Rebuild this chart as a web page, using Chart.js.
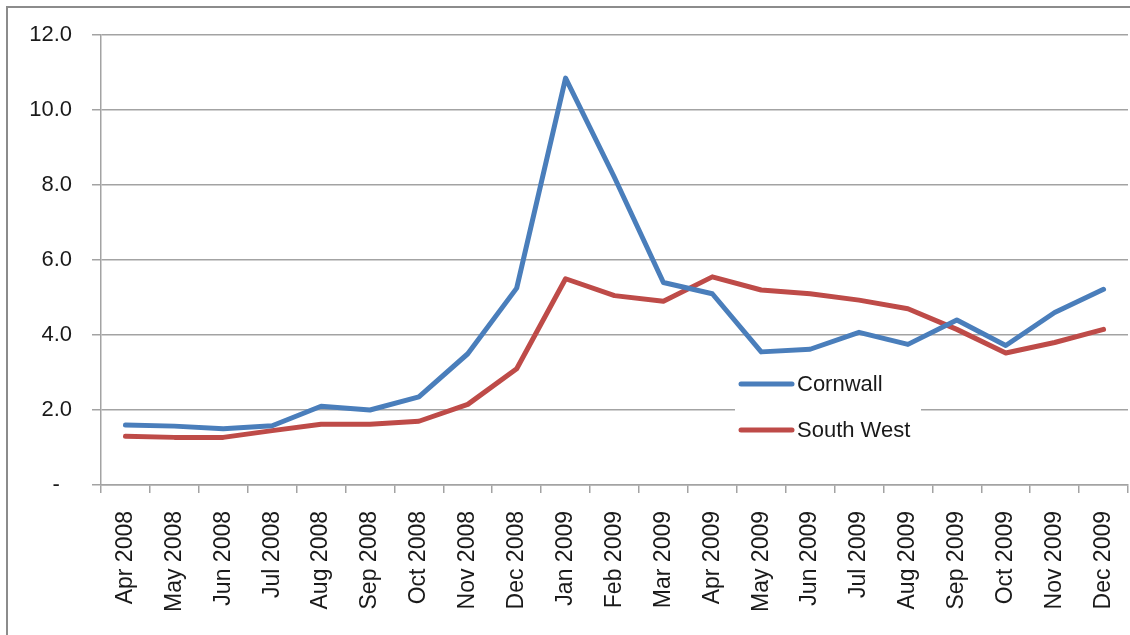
<!DOCTYPE html>
<html>
<head>
<meta charset="utf-8">
<script src="https://cdn.jsdelivr.net/npm/chart.js@4/dist/chart.umd.min.js"></script>
<style>
  html, body { margin: 0; padding: 0; background: #fff; overflow: hidden; }
  #wrap { position: relative; width: 1130px; height: 635px; }
  #frame { position: absolute; left: 6px; top: 6px; width: 1130px; height: 640px;
           border-left: 2px solid #8c8c8c; border-top: 2px solid #8c8c8c; pointer-events: none; }
  canvas { position: absolute; left: 0; top: 0; }
</style>
</head>
<body>
<div id="wrap">
  <canvas id="c" width="1130" height="635"></canvas>
  <div id="frame"></div>
</div>
<script>
const categories = ['Apr 2008','May 2008','Jun 2008','Jul 2008','Aug 2008','Sep 2008','Oct 2008','Nov 2008','Dec 2008',
  'Jan 2009','Feb 2009','Mar 2009','Apr 2009','May 2009','Jun 2009','Jul 2009','Aug 2009','Sep 2009','Oct 2009','Nov 2009','Dec 2009'];
const cornwall = [1.60, 1.57, 1.50, 1.58, 2.10, 2.00, 2.35, 3.50, 5.25, 10.85, 8.20, 5.40, 5.10, 3.55, 3.62, 4.07, 3.75, 4.40, 3.72, 4.60, 5.22];
const southWest = [1.30, 1.27, 1.27, 1.45, 1.62, 1.62, 1.70, 2.15, 3.10, 5.50, 5.05, 4.90, 5.55, 5.20, 5.10, 4.93, 4.70, 4.15, 3.52, 3.80, 4.15];
const yTicks = [0, 2, 4, 6, 8, 10, 12];
const seriesNames = ['Cornwall', 'South West'];

const FONT = '"Liberation Sans", Arial, sans-serif';
const TEXT = '#1a1a1a';
const GRID = '#a3a3a3';

const legendPlugin = {
  id: 'floatLegend',
  afterDraw(chart) {
    const ctx = chart.ctx;
    ctx.save();
    ctx.fillStyle = '#ffffff';
    ctx.fillRect(735, 362, 186, 92);
    const rows = [384, 430];
    chart.data.datasets.forEach((ds, i) => {
      const y = rows[i];
      ctx.strokeStyle = ds.borderColor;
      ctx.lineWidth = 5;
      ctx.lineCap = 'round';
      ctx.beginPath();
      ctx.moveTo(741, y);
      ctx.lineTo(792, y);
      ctx.stroke();
      ctx.fillStyle = TEXT;
      ctx.font = '22px ' + FONT;
      ctx.textAlign = 'left';
      ctx.textBaseline = 'middle';
      ctx.fillText(ds.label, 797, y + 1);
    });
    ctx.restore();
  }
};

new Chart(document.getElementById('c'), {
  type: 'line',
  data: {
    labels: categories,
    datasets: [
      { label: seriesNames[0], data: cornwall, borderColor: '#4a7ebb', backgroundColor: '#4a7ebb',
        borderWidth: 5, pointRadius: 0, tension: 0, borderJoinStyle: 'round', borderCapStyle: 'round' },
      { label: seriesNames[1], data: southWest, borderColor: '#be4b48', backgroundColor: '#be4b48',
        borderWidth: 5, pointRadius: 0, tension: 0, borderJoinStyle: 'round', borderCapStyle: 'round' }
    ]
  },
  options: {
    responsive: false,
    animation: false,
    devicePixelRatio: 1,
    layout: { padding: { top: 35, right: 2, left: 0, bottom: 0 } },
    plugins: { legend: { display: false }, tooltip: { enabled: false } },
    scales: {
      x: {
        offset: true,
        grid: { offset: true, drawOnChartArea: false, drawTicks: true, tickLength: 8, color: GRID, lineWidth: 1.5 },
        border: { display: true, color: GRID, width: 1.5 },
        ticks: { autoSkip: false, minRotation: 90, maxRotation: 90, padding: 18, color: TEXT,
                 font: { family: FONT, size: 23 } },
        afterFit(scale) { scale.height = 150; scale.paddingRight = 0; scale.paddingLeft = 0; }
      },
      y: {
        min: 0, max: 12,
        afterBuildTicks(scale) { scale.ticks = yTicks.map(v => ({ value: v })); },
        grid: { color: GRID, lineWidth: 1.5, tickLength: 9, drawTicks: true },
        border: { display: true, color: GRID, width: 1.5 },
        ticks: { padding: 20, color: TEXT, font: { family: FONT, size: 22 },
                 callback: (v) => v === 0 ? '-  ' : v.toFixed(1) },
        afterFit(scale) { scale.width = 101; }
      }
    }
  },
  plugins: [legendPlugin]
});
</script>
</body>
</html>
